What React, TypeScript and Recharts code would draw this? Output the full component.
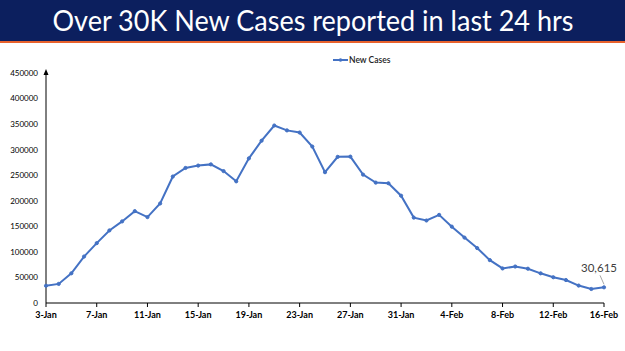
import React from 'react';
import { LineChart, Line, XAxis, YAxis, Legend, ReferenceDot } from 'recharts';

const dates = [
  '3-Jan','4-Jan','5-Jan','6-Jan','7-Jan','8-Jan','9-Jan','10-Jan','11-Jan','12-Jan','13-Jan','14-Jan','15-Jan','16-Jan','17-Jan','18-Jan','19-Jan','20-Jan','21-Jan','22-Jan','23-Jan','24-Jan','25-Jan','26-Jan','27-Jan','28-Jan','29-Jan','30-Jan','31-Jan',
  '1-Feb','2-Feb','3-Feb','4-Feb','5-Feb','6-Feb','7-Feb','8-Feb','9-Feb','10-Feb','11-Feb','12-Feb','13-Feb','14-Feb','15-Feb','16-Feb'
];

const newCases = [
  33750, 37379, 58097, 90928, 117100, 141986, 159632, 179723, 168063, 194720, 247417,
  264202, 268833, 271202, 258089, 238018, 282970, 317532, 347254, 337704, 333533,
  306064, 255874, 285914, 286384, 251209, 235532, 234281, 209918,
  167059, 161386, 172433, 149394, 127952, 107474, 83876, 67597, 71365, 67084,
  58077, 50407, 44877, 34113, 27409, 30615
];

const yTicks = [0, 50000, 100000, 150000, 200000, 250000, 300000, 350000, 400000, 450000];

const title = 'Over 30K New Cases reported in last 24 hrs';
const seriesName = 'New Cases';

const data = dates.map((d, i) => ({ date: d, cases: newCases[i] }));

const BLUE = '#4472C4';
const FONT = 'Lato, "Open Sans", sans-serif';

const LastLabel = (props: any) => {
  const { x, y, value, index } = props;
  if (index !== newCases.length - 1) return null;
  return (
    <g>
      <line x1={x - 4} y1={y - 12} x2={x} y2={y - 3} stroke="#a6a6a6" strokeWidth={1} />
      <text x={x - 5} y={y - 15} textAnchor="middle" fontSize={11.5} fill="#404040" fontFamily={FONT}>
        {Number(value).toLocaleString('en-US')}
      </text>
    </g>
  );
};

const Arrow = (props: any) => {
  const { cx, cy } = props;
  if (cx == null || cy == null) return null;
  return <path d={`M${cx - 2.5},${cy + 2} L${cx},${cy - 4} L${cx + 2.5},${cy + 2} Z`} fill="#000" />;
};

const LegendContent = (props: any) => {
  const { payload } = props;
  return (
    <div style={{ display: 'flex', alignItems: 'center', fontFamily: FONT }}>
      {(payload || []).map((p: any) => (
        <div key={p.value} style={{ display: 'flex', alignItems: 'center' }}>
          <svg width={15} height={8}>
            <line x1={0} y1={4} x2={15} y2={4} stroke={BLUE} strokeWidth={2} />
            <circle cx={7.5} cy={4} r={1.8} fill={BLUE} />
          </svg>
          <span style={{ fontSize: 8.5, color: '#222', fontWeight: 600, marginLeft: 1 }}>{p.value}</span>
        </div>
      ))}
    </div>
  );
};

export default function App() {
  return (
    <div style={{ position: 'fixed', left: 0, top: 0, width: 625, height: 351, background: '#fff', overflow: 'hidden' }}>
      <div style={{ position: 'absolute', left: 0, top: 0, width: 625, height: 41, background: '#0c1f5e' }} />
      <div style={{ position: 'absolute', left: 0, top: 41, width: 625, height: 2, background: '#e8622c' }} />
      <svg style={{ position: 'absolute', left: 0, top: 0 }} width={625} height={41}>
        <text x={313} y={31} textAnchor="middle" fontSize={29} fill="#ffffff" fontFamily={FONT} textLength={521} lengthAdjust="spacingAndGlyphs">
          {title}
        </text>
      </svg>
      <div style={{ position: 'absolute', left: 0, top: 0 }}>
        <LineChart width={625} height={351} data={data} margin={{ top: 63, right: 21, bottom: 18, left: 6 }}>
          <XAxis
            dataKey="date"
            interval={3}
            axisLine={{ stroke: '#000', strokeWidth: 1 }}
            tickLine={{ stroke: '#000' }}
            tickSize={4}
            tickMargin={5}
            height={30}
            padding={{ left: 0, right: 0 }}
            tick={{ fontSize: 9, fontWeight: 700, fill: '#000', fontFamily: FONT }}
          />
          <YAxis
            domain={[0, 450000]}
            ticks={yTicks}
            width={40}
            axisLine={{ stroke: '#000', strokeWidth: 1 }}
            tickLine={false}
            tickSize={0}
            tickMargin={8}
            tick={{ fontSize: 8, fill: '#000', fontFamily: FONT }}
          />
          <Legend
            verticalAlign="top"
            align="left"
            content={<LegendContent />}
            wrapperStyle={{ position: 'absolute', top: 55, left: 333, width: 90 }}
          />
          <ReferenceDot x="3-Jan" y={450000} ifOverflow="visible" shape={<Arrow />} />
          <Line
            type="linear"
            dataKey="cases"
            name={seriesName}
            stroke={BLUE}
            strokeWidth={2}
            dot={{ r: 1.6, fill: BLUE, stroke: BLUE, strokeWidth: 1 }}
            isAnimationActive={false}
            label={<LastLabel />}
          />
        </LineChart>
      </div>
    </div>
  );
}
